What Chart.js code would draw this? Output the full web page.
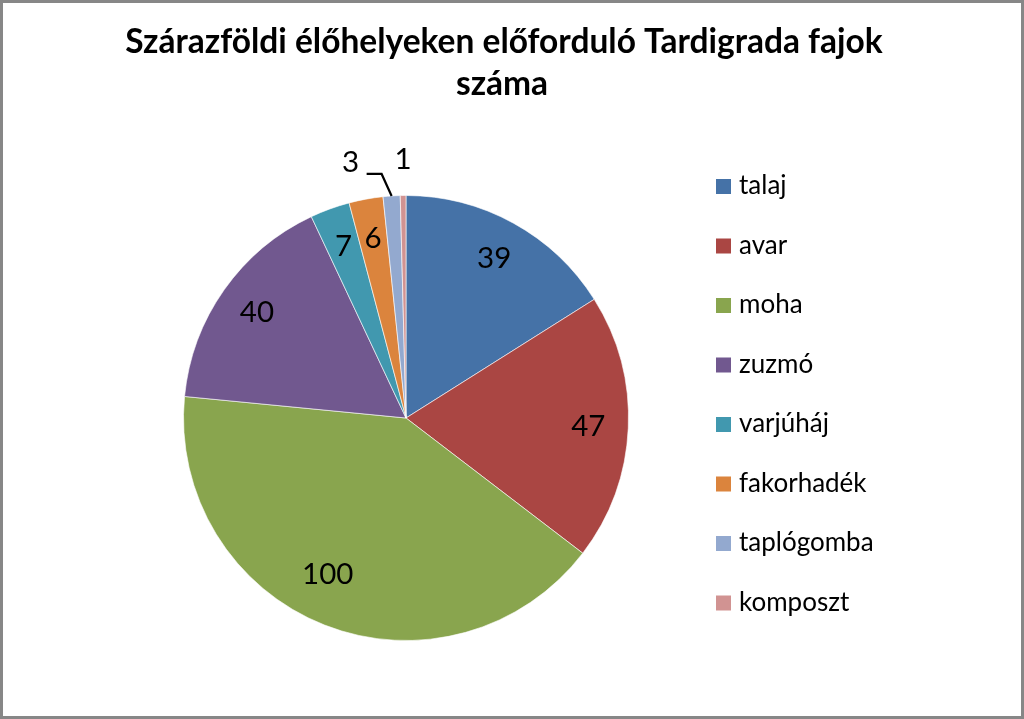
<!DOCTYPE html>
<html>
<head>
<meta charset="utf-8">
<script src="https://cdn.jsdelivr.net/npm/chart.js@4.4.0/dist/chart.umd.min.js"></script>
<style>
  html, body { margin: 0; padding: 0; background: #fff; }
  #wrap { position: relative; width: 1024px; height: 719px; overflow: hidden; }
  #c { position: absolute; left: 0; top: 0; }
  #frame { position: absolute; left: 0; top: 0; width: 1024px; height: 719px; box-sizing: border-box;
           border: 3px solid #878787; pointer-events: none; }
</style>
</head>
<body>
<div id="wrap">
  <canvas id="c" width="1024" height="719"></canvas>
  <div id="frame"></div>
</div>
<script>
const titleLines = ['Szárazföldi élőhelyeken előforduló Tardigrada fajok', 'száma'];
const categories = ['talaj', 'avar', 'moha', 'zuzmó', 'varjúháj', 'fakorhadék', 'taplógomba', 'komposzt'];
const speciesCounts = [39, 47, 100, 40, 7, 6, 3, 1];
const sliceColors = ['#4572A7', '#AA4643', '#89A54E', '#71588F', '#4198AF', '#DB843D', '#93A9CF', '#D19392'];

const FONT = 'Lato, "Open Sans", "DejaVu Sans", sans-serif';

const decorPlugin = {
  id: 'decor',
  afterDatasetsDraw(chart) {
    const ctx = chart.ctx;
    const meta = chart.getDatasetMeta(0);
    const data = chart.data.datasets[0].data;
    ctx.save();
    ctx.fillStyle = '#000';
    ctx.textAlign = 'center';
    ctx.textBaseline = 'middle';
    ctx.font = '29.5px ' + FONT;
    meta.data.forEach((arc, i) => {
      const p = arc.getProps(['x', 'y', 'startAngle', 'endAngle', 'outerRadius'], true);
      let mid = (p.startAngle + p.endAngle) / 2;
      const r = p.outerRadius;
      const label = String(data[i]);
      if (i < 6) {
        let f = 0.82;
        if (i === 2) { mid += 0.09; f = 0.785; }
        const lx = p.x + Math.cos(mid) * r * f;
        const ly = p.y + Math.sin(mid) * r * f;
        ctx.fillText(label, lx, ly);
      } else {
        const ex = p.x + Math.cos(mid) * r;
        const ey = p.y + Math.sin(mid) * r;
        if (i === 6) {
          ctx.strokeStyle = '#000';
          ctx.lineWidth = 2.2;
          ctx.beginPath();
          ctx.moveTo(ex, ey);
          ctx.lineTo(ex - 10, ey - 22);
          ctx.lineTo(ex - 25, ey - 22);
          ctx.stroke();
          ctx.fillText(label, ex - 41, ey - 33);
        } else {
          ctx.fillText(label, ex, ey - 36);
        }
      }
    });
    ctx.restore();
  },
  afterDraw(chart) {
    const ctx = chart.ctx;
    ctx.save();
    // Title
    ctx.fillStyle = '#000';
    ctx.textAlign = 'center';
    ctx.textBaseline = 'alphabetic';
    ctx.font = 'bold 33.5px ' + FONT;
    ctx.fillText(titleLines[0], 504, 53);
    ctx.fillText(titleLines[1], 502, 95);
    // Legend
    const colors = chart.data.datasets[0].backgroundColor;
    ctx.textAlign = 'left';
    ctx.font = '26px ' + FONT;
    chart.data.labels.forEach((lab, i) => {
      const cy = 186 + i * 59.5;
      ctx.fillStyle = colors[i];
      ctx.fillRect(716, cy - 7, 15, 15);
      ctx.fillStyle = '#000';
      ctx.fillText(lab, 739, cy + 8);
    });
    ctx.restore();
  }
};

function build() {
  new Chart(document.getElementById('c'), {
    type: 'pie',
    data: {
      labels: categories,
      datasets: [{
        data: speciesCounts,
        backgroundColor: sliceColors,
        borderColor: 'rgba(255,255,255,0.6)',
        borderWidth: 1
      }]
    },
    options: {
      responsive: false,
      animation: false,
      devicePixelRatio: 1,
      layout: { padding: { left: 183, right: 395, top: 195, bottom: 78 } },
      plugins: {
        legend: { display: false },
        title: { display: false },
        tooltip: { enabled: false }
      }
    },
    plugins: [decorPlugin]
  });
}

let built = false;
function go() { if (!built) { built = true; build(); } }
if (document.fonts && document.fonts.load) {
  Promise.all([document.fonts.load('bold 33px Lato'), document.fonts.load('26px Lato')]).then(go, go);
  setTimeout(go, 1500);
} else { go(); }
</script>
</body>
</html>
